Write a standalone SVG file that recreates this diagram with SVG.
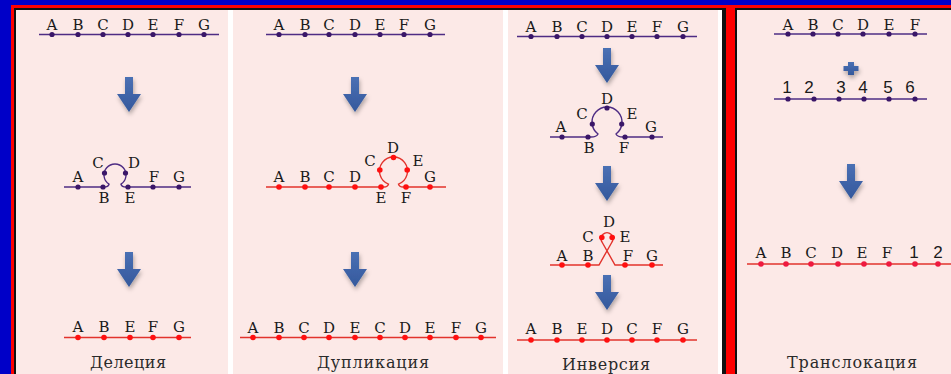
<svg xmlns="http://www.w3.org/2000/svg" xmlns:xlink="http://www.w3.org/1999/xlink" width="951" height="374" viewBox="0 0 951 374">
<style>
.lt{font-size:15px;fill:#1a1a1a;text-anchor:middle}
.num{font-size:17px;fill:#1a1a1a;text-anchor:middle}
.lab{font-size:16px;fill:#2a2a2a;text-anchor:middle}
.pl{stroke:#4e2c84;stroke-width:1.4;fill:none}
.rl{stroke:#e2332c;stroke-width:1.4;fill:none}
.pd{fill:#3a1668}
.rd{fill:#ff1010}
.cd{fill:#ee1a40}
.panel{fill:#fce9e7}
</style>
<defs>
<filter id="sh" x="-50%" y="-30%" width="200%" height="180%">
<feDropShadow dx="1" dy="3" stdDeviation="2" flood-color="#000" flood-opacity="0.3"/>
</filter>
<linearGradient id="ag" x1="0" y1="0" x2="0" y2="1">
<stop offset="0" stop-color="#4a70b4"/>
<stop offset="1" stop-color="#34589c"/>
</linearGradient>
<path id="arrow" d="M-4,0 H4 V17 H12 L0,35 L-12,17 H-4 Z" fill="url(#ag)"/>
</defs>

<!-- frames -->
<rect x="0" y="0" width="951" height="374" fill="#0000c8"/>
<rect x="11" y="5" width="945" height="380" fill="#ff0000"/>
<rect x="14" y="8" width="712" height="380" fill="#111"/>
<rect x="16" y="10" width="706" height="380" fill="#ffffff"/>
<rect x="735" y="8" width="230" height="380" fill="#111"/>
<rect class="panel" x="737" y="10" width="230" height="380"/>
<rect class="panel" x="16" y="10" width="212" height="380"/>
<rect class="panel" x="233" y="10" width="270" height="380"/>
<rect class="panel" x="508" y="10" width="210" height="380"/>

<g font-family="DejaVu Serif, Liberation Serif, serif">
<!-- Panel 1: deletion -->
<g id="deletion-before">
<path class="pl" d="M39,34.5 H219"/>
<g class="pd"><circle cx="52" cy="34.5" r="2.6"/><circle cx="78" cy="34.5" r="2.6"/><circle cx="103" cy="34.5" r="2.6"/><circle cx="128" cy="34.5" r="2.6"/><circle cx="153" cy="34.5" r="2.6"/><circle cx="179" cy="34.5" r="2.6"/><circle cx="204" cy="34.5" r="2.6"/></g>
<g class="lt"><text x="52" y="29.5">A</text><text x="78" y="29.5">B</text><text x="103" y="29.5">C</text><text x="128" y="29.5">D</text><text x="153" y="29.5">E</text><text x="179" y="29.5">F</text><text x="204" y="29.5">G</text></g>
</g>
<g id="deletion-loop">
<path class="pl" d="M64,187 H104 C107,187 108.5,186 109,184.2 A11,11 0 1 1 121,184.2 C121.5,186 123,187 126,187 H191"/>
<g class="pd"><circle cx="78" cy="187" r="2.6"/><circle cx="103" cy="187" r="2.6"/><circle cx="128" cy="187" r="2.6"/><circle cx="153" cy="187" r="2.6"/><circle cx="179" cy="187" r="2.6"/><circle cx="104.5" cy="173" r="2.6"/><circle cx="125.5" cy="173" r="2.6"/></g>
<g class="lt"><text x="78" y="181.5">A</text><text x="98" y="168">C</text><text x="134" y="168">D</text><text x="154" y="181.5">F</text><text x="179" y="181.5">G</text><text x="104" y="203">B</text><text x="130" y="203">E</text></g>
</g>
<g id="deletion-after">
<path class="rl" d="M64,337.5 H191"/>
<g class="rd"><circle cx="78" cy="337.5" r="2.8"/><circle cx="104" cy="337.5" r="2.8"/><circle cx="130" cy="337.5" r="2.8"/><circle cx="153" cy="337.5" r="2.8"/><circle cx="179" cy="337.5" r="2.8"/></g>
<g class="lt"><text x="78" y="332">A</text><text x="104" y="332">B</text><text x="130" y="332">E</text><text x="153" y="332">F</text><text x="179" y="332">G</text></g>
<text class="lab" x="128" y="368" textLength="76" lengthAdjust="spacing">Делеция</text>
</g>

<!-- Panel 2: duplication -->
<g id="duplication-before">
<path class="pl" d="M266,34.5 H445"/>
<g class="pd"><circle cx="279" cy="34.5" r="2.6"/><circle cx="305" cy="34.5" r="2.6"/><circle cx="329" cy="34.5" r="2.6"/><circle cx="355" cy="34.5" r="2.6"/><circle cx="380" cy="34.5" r="2.6"/><circle cx="404" cy="34.5" r="2.6"/><circle cx="430" cy="34.5" r="2.6"/></g>
<g class="lt"><text x="279" y="29.5">A</text><text x="305" y="29.5">B</text><text x="329" y="29.5">C</text><text x="355" y="29.5">D</text><text x="380" y="29.5">E</text><text x="404" y="29.5">F</text><text x="430" y="29.5">G</text></g>
</g>
<g id="duplication-loop">
<path class="rl" d="M266,187 H384 C386.5,187 388,186 388.5,184.1 A14,14 0 1 1 398.5,184.1 C399,186 400.5,187 403,187 H446"/>
<g class="rd"><circle cx="279" cy="187" r="2.8"/><circle cx="305" cy="187" r="2.8"/><circle cx="329" cy="187" r="2.8"/><circle cx="355" cy="187" r="2.8"/><circle cx="381" cy="187" r="2.8"/><circle cx="406" cy="187" r="2.8"/><circle cx="430" cy="187" r="2.8"/><circle cx="379.8" cy="170" r="2.8"/><circle cx="393.5" cy="157.5" r="2.8"/><circle cx="407.2" cy="170" r="2.8"/></g>
<g class="lt"><text x="279" y="182">A</text><text x="305" y="182">B</text><text x="329" y="182">C</text><text x="355" y="182">D</text><text x="370" y="166">C</text><text x="393" y="153">D</text><text x="418" y="166">E</text><text x="430" y="182">G</text><text x="381" y="203">E</text><text x="406" y="203">F</text></g>
</g>
<g id="duplication-after">
<path class="rl" d="M240,337.5 H496"/>
<g class="rd"><circle cx="253" cy="337.5" r="2.8"/><circle cx="279" cy="337.5" r="2.8"/><circle cx="304" cy="337.5" r="2.8"/><circle cx="329" cy="337.5" r="2.8"/><circle cx="355" cy="337.5" r="2.8"/><circle cx="380" cy="337.5" r="2.8"/><circle cx="405" cy="337.5" r="2.8"/><circle cx="430" cy="337.5" r="2.8"/><circle cx="456" cy="337.5" r="2.8"/><circle cx="481" cy="337.5" r="2.8"/></g>
<g class="lt"><text x="253" y="332.5">A</text><text x="279" y="332.5">B</text><text x="304" y="332.5">C</text><text x="329" y="332.5">D</text><text x="355" y="332.5">E</text><text x="380" y="332.5">C</text><text x="405" y="332.5">D</text><text x="430" y="332.5">E</text><text x="456" y="332.5">F</text><text x="481" y="332.5">G</text></g>
<text class="lab" x="373" y="368" textLength="112" lengthAdjust="spacing">Дупликация</text>
</g>

<!-- Panel 3: inversion -->
<g id="inversion-before">
<path class="pl" d="M517,36.5 H697"/>
<g class="pd"><circle cx="531" cy="36.5" r="2.6"/><circle cx="557" cy="36.5" r="2.6"/><circle cx="582" cy="36.5" r="2.6"/><circle cx="607" cy="36.5" r="2.6"/><circle cx="632" cy="36.5" r="2.6"/><circle cx="657" cy="36.5" r="2.6"/><circle cx="683" cy="36.5" r="2.6"/></g>
<g class="lt"><text x="531" y="31.5">A</text><text x="557" y="31.5">B</text><text x="582" y="31.5">C</text><text x="607" y="31.5">D</text><text x="632" y="31.5">E</text><text x="657" y="31.5">F</text><text x="683" y="31.5">G</text></g>
</g>
<g id="inversion-loop">
<path class="pl" d="M550,137 H591 C595,137 597,136 598,134 A15,15 0 1 1 616,134 C617,136 619,137 623,137 H663"/>
<g class="pd"><circle cx="562" cy="137" r="2.6"/><circle cx="588" cy="137" r="2.6"/><circle cx="625" cy="137" r="2.6"/><circle cx="652" cy="137" r="2.6"/><circle cx="592.3" cy="124" r="2.6"/><circle cx="607" cy="108" r="2.6"/><circle cx="621.7" cy="124" r="2.6"/></g>
<g class="lt"><text x="561" y="132">A</text><text x="582" y="119">C</text><text x="607" y="104">D</text><text x="632" y="119">E</text><text x="651" y="132">G</text><text x="589" y="153">B</text><text x="624" y="153">F</text></g>
</g>
<g id="inversion-cross">
<path class="rl" d="M550,265 H599 L612,242 A6,6 0 1 0 602,242 L615,265 H663"/>
<g class="rd"><circle cx="562" cy="265" r="2.8"/><circle cx="588" cy="265" r="2.8"/><circle cx="625" cy="265" r="2.8"/><circle cx="652" cy="265" r="2.8"/><circle cx="601.8" cy="237.5" r="2.8"/><circle cx="612.2" cy="237.5" r="2.8"/></g>
<g class="lt"><text x="609" y="227">D</text><text x="588" y="242">C</text><text x="625" y="242">E</text><text x="562" y="261">A</text><text x="588" y="261">B</text><text x="628" y="261">F</text><text x="652" y="261">G</text></g>
</g>
<g id="inversion-after">
<path class="rl" d="M517,340 H697"/>
<g class="rd"><circle cx="531" cy="340" r="2.8"/><circle cx="557" cy="340" r="2.8"/><circle cx="582" cy="340" r="2.8"/><circle cx="607" cy="340" r="2.8"/><circle cx="632" cy="340" r="2.8"/><circle cx="657" cy="340" r="2.8"/><circle cx="683" cy="340" r="2.8"/></g>
<g class="lt"><text x="531" y="334">A</text><text x="557" y="334">B</text><text x="582" y="334">E</text><text x="607" y="334">D</text><text x="632" y="334">C</text><text x="657" y="334">F</text><text x="683" y="334">G</text></g>
<text class="lab" x="606" y="370" textLength="88" lengthAdjust="spacing">Инверсия</text>
</g>

<!-- Panel 4: translocation -->
<g id="translocation-chr1">
<path class="pl" d="M774,34 H927"/>
<g class="pd"><circle cx="788" cy="34" r="2.6"/><circle cx="813" cy="34" r="2.6"/><circle cx="838" cy="34" r="2.6"/><circle cx="863" cy="34" r="2.6"/><circle cx="889" cy="34" r="2.6"/><circle cx="915" cy="34" r="2.6"/></g>
<g class="lt"><text x="788" y="29.5">A</text><text x="813" y="29.5">B</text><text x="838" y="29.5">C</text><text x="863" y="29.5">D</text><text x="889" y="29.5">E</text><text x="915" y="29.5">F</text></g>
</g>
<g id="translocation-plus">
<path d="M848,62 H854 V66 H858.5 V71 H854 V75 H848 V71 H843.5 V66 H848 Z" fill="url(#ag)" filter="url(#sh)"/>
</g>
<g id="translocation-chr2">
<path class="pl" d="M774,99 H927"/>
<g class="pd"><circle cx="788" cy="99" r="2.6"/><circle cx="814" cy="99" r="2.6"/><circle cx="839" cy="99" r="2.6"/><circle cx="864" cy="99" r="2.6"/><circle cx="889" cy="99" r="2.6"/><circle cx="915" cy="99" r="2.6"/></g>
<g class="num" font-family="Liberation Sans, Arial, sans-serif"><text x="787" y="93">1</text><text x="809" y="93">2</text><text x="841" y="93">3</text><text x="863" y="93">4</text><text x="888" y="93">5</text><text x="910" y="93">6</text></g>
</g>
<g id="translocation-after">
<path class="rl" d="M747,264 H951"/>
<g class="cd"><circle cx="761" cy="264" r="2.8"/><circle cx="786" cy="264" r="2.8"/><circle cx="811" cy="264" r="2.8"/><circle cx="838" cy="264" r="2.8"/><circle cx="864" cy="264" r="2.8"/><circle cx="889" cy="264" r="2.8"/><circle cx="915" cy="264" r="2.8"/><circle cx="938" cy="264" r="2.8"/></g>
<g class="lt"><text x="761" y="258">A</text><text x="786" y="258">B</text><text x="811" y="258">C</text><text x="837" y="258">D</text><text x="862" y="258">E</text><text x="887" y="258">F</text></g>
<g class="num" font-family="Liberation Sans, Arial, sans-serif"><text x="914" y="258">1</text><text x="938" y="258">2</text></g>
<text class="lab" x="852" y="368" textLength="130" lengthAdjust="spacing">Транслокация</text>
</g>
</g>

<!-- connectors (arrows) -->
<g id="connectors" filter="url(#sh)">
<use xlink:href="#arrow" x="129" y="77"/>
<use xlink:href="#arrow" x="129" y="252"/>
<use xlink:href="#arrow" x="355" y="77"/>
<use xlink:href="#arrow" x="355" y="252"/>
<use xlink:href="#arrow" x="607" y="48"/>
<use xlink:href="#arrow" x="607" y="166"/>
<use xlink:href="#arrow" x="607" y="275"/>
<use xlink:href="#arrow" x="851" y="164"/>
</g>
</svg>
